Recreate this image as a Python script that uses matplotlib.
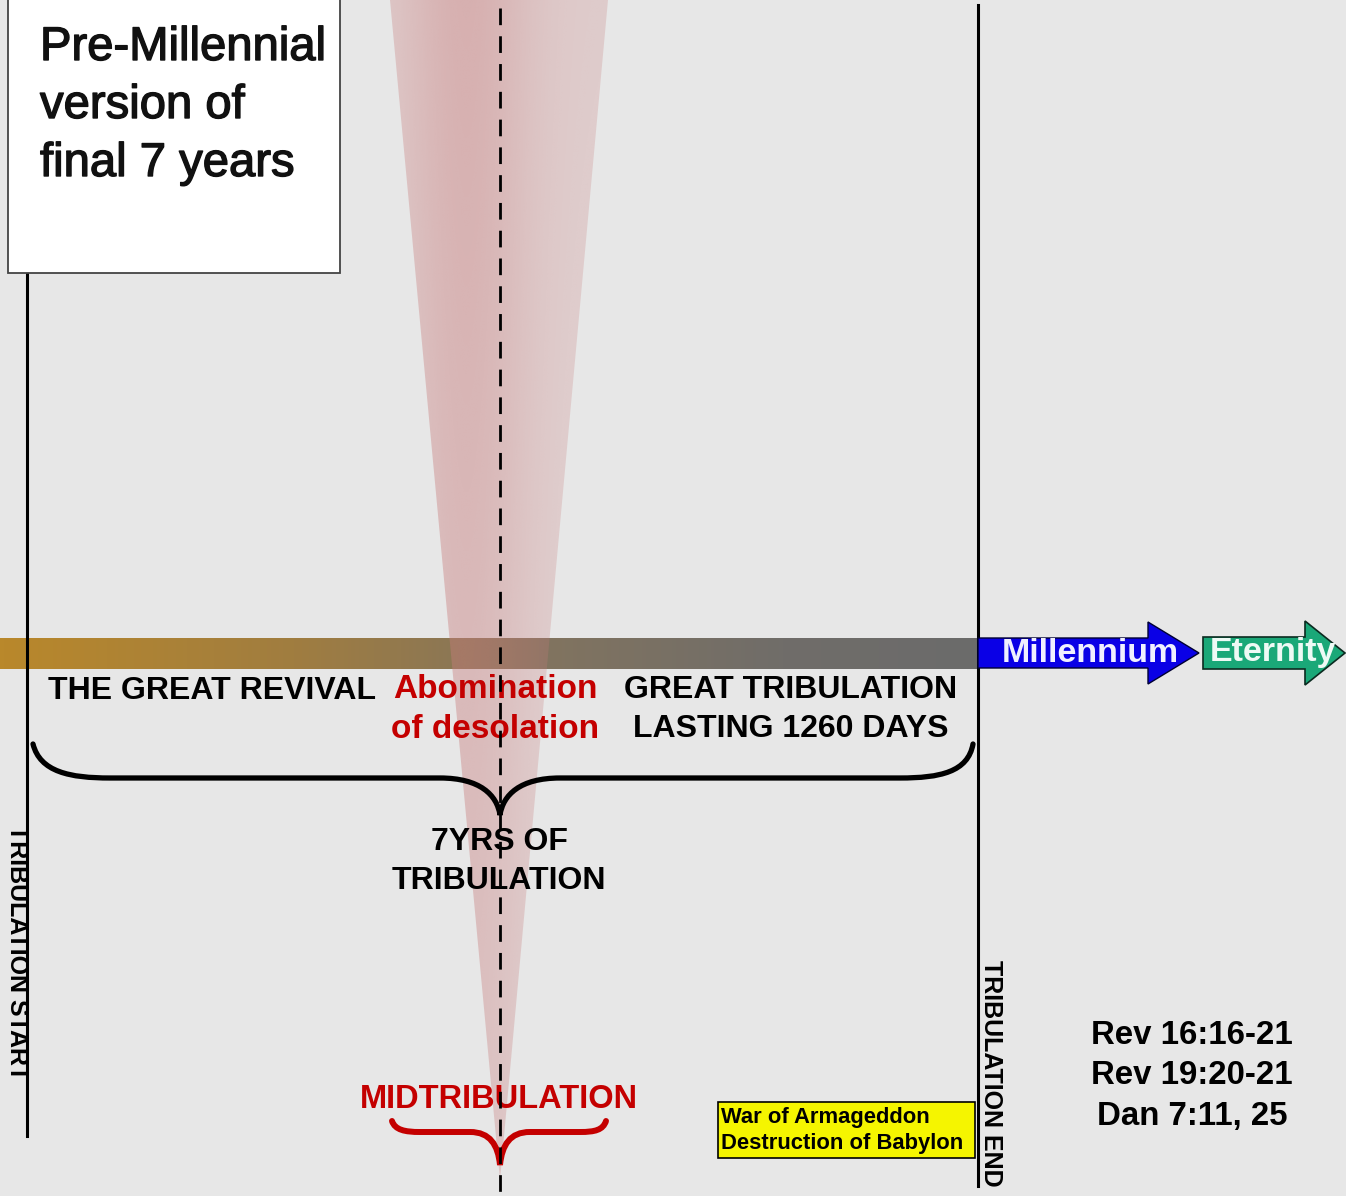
import numpy as np
import matplotlib
matplotlib.use("Agg")
import matplotlib.pyplot as plt
import matplotlib.patheffects as pe
from matplotlib.path import Path
from matplotlib.patches import PathPatch, Polygon, Rectangle
from matplotlib.colors import LinearSegmentedColormap

# ---- content ----
title_lines = ["Pre-Millennial", "version of", "final 7 years"]
revival_label = "THE GREAT REVIVAL"
abomination_lines = ["Abomination", "of desolation"]
great_trib_lines = ["GREAT TRIBULATION", "LASTING 1260 DAYS"]
brace_lines = ["7YRS OF", "TRIBULATION"]
mid_label = "MIDTRIBULATION"
start_label = "TRIBULATION START"
end_label = "TRIBULATION END"
after_labels = ["Millennium", "Eternity"]
event_box = ["War of Armageddon", "Destruction of Babylon"]
references = ["Rev 16:16-21", "Rev 19:20-21", "Dan 7:11, 25"]

W, H = 1346, 1196
fig = plt.figure(figsize=(W / 100, H / 100), dpi=100)
ax = fig.add_axes([0, 0, 1, 1])
ax.set_xlim(0, W)
ax.set_ylim(H, 0)
ax.axis("off")
fig.patch.set_facecolor("#e7e7e7")
ax.set_facecolor("#e7e7e7")

BF = "Liberation Sans"
RED = "#c40000"

# horizontal timeline bar with gradient
bar_cmap = LinearSegmentedColormap.from_list(
    "bar", [(0, "#b9882b"), (0.3, "#a07d40"), (0.55, "#82745f"), (0.8, "#706d69"), (1, "#6b6b6b")])
grad = np.linspace(0, 1, 256)[None, :]
ax.imshow(grad, cmap=bar_cmap, extent=(0, 978, 669, 638), aspect="auto", zorder=1)

# pink cone
cone = Polygon([(390, 0), (608, 0), (500, 1180)], closed=True, facecolor="none", edgecolor="none")
ax.add_patch(cone)
nx, ny = 200, 300
xs = np.linspace(0, 1, nx)
prof = 0.26 + 0.26 * np.exp(-((xs - 0.35) / 0.3) ** 2)
ys = np.linspace(0, 1, ny)[:, None]
alpha = prof[None, :] * (1 - 0.3 * ys)
img = np.zeros((ny, nx, 4))
img[..., 0] = 200 / 255
img[..., 1] = 125 / 255
img[..., 2] = 125 / 255
img[..., 3] = alpha
im = ax.imshow(img, extent=(390, 608, 1180, 0), origin="upper", aspect="auto", zorder=2)
im.set_clip_path(cone)

# vertical lines
ax.plot([27, 27], [273, 1136], color="black", lw=2.2, zorder=3)
ax.plot([978, 978], [5, 1186], color="black", lw=2.2, zorder=3)
ax.plot([500, 500], [8, 1196], color="black", lw=2.0, ls=(0, (6, 4)), zorder=6)

# title box
ax.add_patch(Rectangle((8, -5), 332, 278, facecolor="white", edgecolor="#444444", lw=1.3, zorder=4))
for i, t in enumerate(title_lines):
    ax.text(40, 48 + i * 58, t, fontsize=34, family=BF, color="#111111", va="center", ha="left", zorder=5,
            path_effects=[pe.withStroke(linewidth=1.0, foreground="#111111")])

# Millennium / Eternity arrows
mil = Polygon([(978, 638), (1148, 638), (1148, 622), (1199, 653), (1148, 684), (1148, 668), (978, 668)],
              closed=True, facecolor="#0a00e6", edgecolor="#000033", lw=1, zorder=4)
ax.add_patch(mil)
ete = Polygon([(1203, 637), (1305, 637), (1305, 621), (1345, 653), (1305, 685), (1305, 669), (1203, 669)],
              closed=True, facecolor="#1aa878", edgecolor="#0b2b20", lw=1.2, zorder=4)
ax.add_patch(ete)
ax.text(1090, 653, after_labels[0], fontsize=24.5, family=BF, weight="bold", color="#f0f0ff",
        ha="center", va="center", zorder=5)
ax.text(1273, 653, after_labels[1], fontsize=24.5, family=BF, weight="bold", color="#eefaf5",
        ha="center", va="center", zorder=5)

# period labels
ax.text(48, 691, revival_label, fontsize=23, family=BF, weight="bold", color="black",
        ha="left", va="center", zorder=5)
for i, t in enumerate(abomination_lines):
    ax.text(495, 690 + i * 39, t, fontsize=24, family=BF, weight="bold", color=RED,
            ha="center", va="center", zorder=5)
for i, t in enumerate(great_trib_lines):
    ax.text(791, 690 + i * 39, t, fontsize=23, family=BF, weight="bold", color="black",
            ha="center", va="center", zorder=5)

# big brace
V = [(33, 744), (40, 772), (70, 778), (110, 778),
     (440, 778),
     (480, 778), (497, 795), (500, 815),
     (503, 795), (520, 778), (560, 778),
     (900, 778),
     (940, 778), (968, 772), (973, 744)]
C = [Path.MOVETO, Path.CURVE4, Path.CURVE4, Path.CURVE4,
     Path.LINETO,
     Path.CURVE4, Path.CURVE4, Path.CURVE4,
     Path.CURVE4, Path.CURVE4, Path.CURVE4,
     Path.LINETO,
     Path.CURVE4, Path.CURVE4, Path.CURVE4]
ax.add_patch(PathPatch(Path(V, C), facecolor="none", edgecolor="black", lw=3.8, capstyle="round", zorder=5))
for i, t in enumerate(brace_lines):
    ax.text(499, 842 + i * 39, t, fontsize=23, family=BF, weight="bold", color="black",
            ha="center", va="center", zorder=5)

# rotated boundary labels
ax.text(17, 953, start_label, fontsize=18, family=BF, weight="bold", color="black",
        rotation=270, ha="center", va="center", zorder=5)
ax.text(991, 1073, end_label, fontsize=18, family=BF, weight="bold", color="black",
        rotation=270, ha="center", va="center", zorder=5)

# midtribulation
ax.text(499, 1100, mid_label, fontsize=23.5, family=BF, weight="bold", color=RED,
        ha="center", va="center", zorder=5)
V2 = [(392, 1121), (395, 1130), (405, 1132), (420, 1132),
      (470, 1132),
      (490, 1132), (498, 1145), (500, 1165),
      (502, 1145), (510, 1132), (530, 1132),
      (580, 1132),
      (595, 1132), (603, 1130), (606, 1121)]
ax.add_patch(PathPatch(Path(V2, C), facecolor="none", edgecolor=RED, lw=4.3, capstyle="round", zorder=5))

# event box
ax.add_patch(Rectangle((718, 1102), 257, 56, facecolor="#f5f500", edgecolor="black", lw=1.2, zorder=4))
for i, t in enumerate(event_box):
    ax.text(721, 1117 + i * 26, t, fontsize=15.8, family=BF, weight="bold", color="black",
            ha="left", va="center", zorder=5)

# references
for i, r in enumerate(references):
    ax.text(1192, 1036 + i * 40, r, fontsize=23.8, family=BF, weight="bold", color="black",
            ha="center", va="center", zorder=5)

fig.savefig("out.png", dpi=100, facecolor=fig.get_facecolor())
